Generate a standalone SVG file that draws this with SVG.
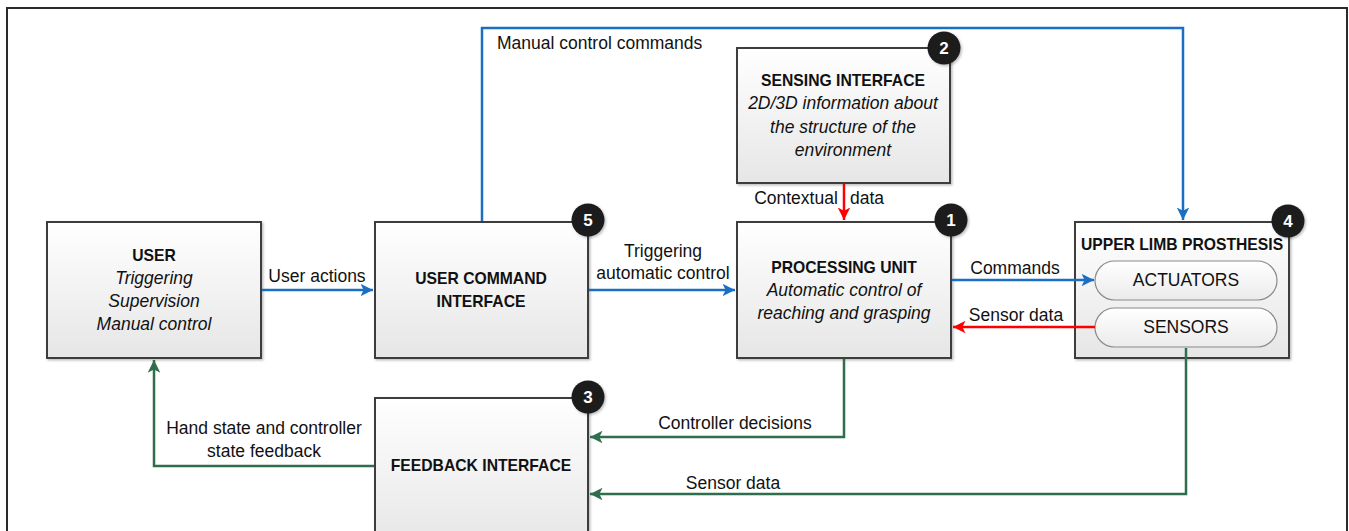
<svg xmlns="http://www.w3.org/2000/svg" width="1349" height="531" viewBox="0 0 1349 531">
<defs>
<linearGradient id="boxg" x1="0" y1="0" x2="0" y2="1">
<stop offset="0" stop-color="#ffffff"/>
<stop offset="1" stop-color="#e6e6e6"/>
</linearGradient>
<linearGradient id="pillg" x1="0" y1="0" x2="0" y2="1">
<stop offset="0" stop-color="#ffffff"/>
<stop offset="1" stop-color="#ebebeb"/>
</linearGradient>
<filter id="sh" x="-10%" y="-10%" width="130%" height="130%">
<feDropShadow dx="1.5" dy="1.5" stdDeviation="1.2" flood-color="#000" flood-opacity="0.25"/>
</filter>
<marker id="ab" viewBox="0 0 10 10" refX="10" refY="5" markerWidth="5" markerHeight="5" orient="auto" markerUnits="strokeWidth">
<path d="M0,0 L10,5 L0,10 L2.5,5 z" fill="#1a6fc4"/>
</marker>
<marker id="ar" viewBox="0 0 10 10" refX="10" refY="5" markerWidth="5" markerHeight="5" orient="auto" markerUnits="strokeWidth">
<path d="M0,0 L10,5 L0,10 L2.5,5 z" fill="#ff0000"/>
</marker>
<marker id="ag" viewBox="0 0 10 10" refX="10" refY="5" markerWidth="5" markerHeight="5" orient="auto" markerUnits="strokeWidth">
<path d="M0,0 L10,5 L0,10 L2.5,5 z" fill="#2f6e4c"/>
</marker>
</defs>
<style>
.box{fill:url(#boxg);stroke:#3c3c3c;stroke-width:2;filter:url(#sh)}
.pill{fill:url(#pillg);stroke:#8a8a8a;stroke-width:1.2}
.t{font-family:"Liberation Sans",Arial,sans-serif;font-size:17.5px;fill:#111;text-anchor:middle}
.b{font-weight:bold;font-size:15.7px}
.i{font-style:italic;font-size:17.5px}
.bl{fill:none;stroke:#1a6fc4;stroke-width:2.5}
.rd{fill:none;stroke:#ff0000;stroke-width:2.5}
.gr{fill:none;stroke:#2f6e4c;stroke-width:2.5}
.badge{fill:#1c1c1c;filter:url(#sh)}
.bn{font-family:"Liberation Sans",Arial,sans-serif;font-size:17px;font-weight:bold;fill:#fff;text-anchor:middle}
</style>
<rect width="1349" height="531" fill="#fff"/>
<path d="M7,540 L7,8 L1347,8 L1347,540" fill="none" stroke="#2a2a2a" stroke-width="2"/>

<g id="user">
<rect class="box" x="47" y="222" width="214" height="136"/>
<text class="t b" x="154" y="261">USER</text>
<text class="t i" x="154" y="284">Triggering</text>
<text class="t i" x="154" y="307">Supervision</text>
<text class="t i" x="154" y="330">Manual control</text>
</g>

<g id="user-command-interface">
<rect class="box" x="375" y="222" width="213" height="136"/>
<text class="t b" x="481" y="284">USER COMMAND</text>
<text class="t b" x="481" y="307">INTERFACE</text>
<circle class="badge" cx="588" cy="220" r="16.5"/>
<text class="bn" x="588" y="226">5</text>
</g>

<g id="feedback-interface">
<rect class="box" x="375" y="398" width="213" height="150"/>
<text class="t b" x="481" y="471">FEEDBACK INTERFACE</text>
<circle class="badge" cx="588" cy="397" r="16.5"/>
<text class="bn" x="588" y="403">3</text>
</g>

<g id="sensing-interface">
<rect class="box" x="737" y="48" width="213" height="135"/>
<text class="t b" x="843" y="86">SENSING INTERFACE</text>
<text class="t i" x="843" y="109">2D/3D information about</text>
<text class="t i" x="843" y="133">the structure of the</text>
<text class="t i" x="843" y="156">environment</text>
<circle class="badge" cx="944" cy="48" r="16.5"/>
<text class="bn" x="944" y="54">2</text>
</g>

<g id="processing-unit">
<rect class="box" x="737" y="222" width="214" height="136"/>
<text class="t b" x="844" y="273">PROCESSING UNIT</text>
<text class="t i" x="844" y="296">Automatic control of</text>
<text class="t i" x="844" y="319">reaching and grasping</text>
<circle class="badge" cx="951" cy="220" r="16.5"/>
<text class="bn" x="951" y="226">1</text>
</g>

<g id="upper-limb-prosthesis">
<rect class="box" x="1075" y="222" width="214" height="136"/>
<text class="t b" x="1182" y="250">UPPER LIMB PROSTHESIS</text>
<g id="actuators">
<rect class="pill" x="1095" y="261" width="182" height="39" rx="19.5"/>
<text class="t" x="1186" y="286">ACTUATORS</text>
</g>
<g id="sensors">
<rect class="pill" x="1095" y="308" width="182" height="39" rx="19.5"/>
<text class="t" x="1186" y="333">SENSORS</text>
</g>
<circle class="badge" cx="1288" cy="221" r="16.5"/>
<text class="bn" x="1288" y="227">4</text>
</g>

<g id="connectors">
<path class="bl" d="M482,221 L482,28 L1183,28 L1183,220" marker-end="url(#ab)"/>
<text class="t" x="497" y="49" style="text-anchor:start">Manual control commands</text>
<path class="rd" d="M844,184 L844,220" marker-end="url(#ar)"/>
<text class="t" y="204"><tspan x="796">Contextual</tspan><tspan x="867">data</tspan></text>
<path class="bl" d="M262,290 L373,290" marker-end="url(#ab)"/>
<text class="t" x="317" y="282">User actions</text>
<path class="bl" d="M589,290 L735,290" marker-end="url(#ab)"/>
<text class="t" x="663" y="257">Triggering</text>
<text class="t" x="663" y="279">automatic control</text>
<path class="bl" d="M952,280 L1094,280" marker-end="url(#ab)"/>
<text class="t" x="1015" y="274">Commands</text>
<path class="rd" d="M1095,327 L953,327" marker-end="url(#ar)"/>
<text class="t" x="1016" y="321">Sensor data</text>
<path class="gr" d="M844,359 L844,437 L590,437" marker-end="url(#ag)"/>
<text class="t" x="735" y="429">Controller decisions</text>
<path class="gr" d="M1186,348 L1186,494 L590,494" marker-end="url(#ag)"/>
<text class="t" x="733" y="489">Sensor data</text>
<path class="gr" d="M374,466 L154,466 L154,360" marker-end="url(#ag)"/>
<text class="t" x="264" y="434">Hand state and controller</text>
<text class="t" x="264" y="457">state feedback</text>
</g>
</svg>
